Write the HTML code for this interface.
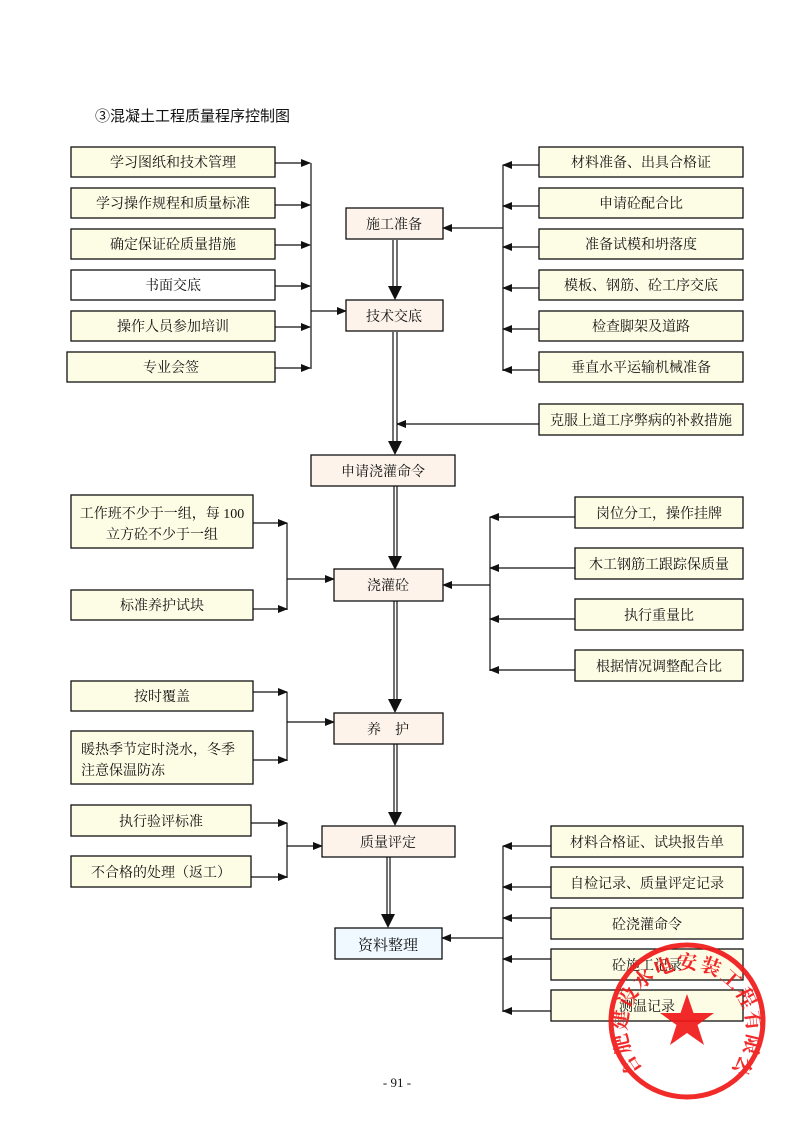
<!DOCTYPE html>
<html><head><meta charset="utf-8"><style>
html,body{margin:0;padding:0;background:#fff}
svg{display:block}
text{font-family:"Liberation Serif","Noto Serif CJK SC","Noto Sans CJK SC",serif;font-size:14px;fill:#111}
.y{fill:#fdfde6;stroke:#111;stroke-width:1.3}
.w{fill:#fff;stroke:#111;stroke-width:1.3}
.p{fill:#fdf3ea;stroke:#111;stroke-width:1.3}
.b{fill:#f0f9ff;stroke:#111;stroke-width:1.3}
.l{stroke:#111;stroke-width:1.2;fill:none}
</style></head><body>
<svg width="794" height="1122" viewBox="0 0 794 1122" xmlns="http://www.w3.org/2000/svg">
<defs>
<marker id="a" markerWidth="10" markerHeight="10" refX="9" refY="5" orient="auto" markerUnits="userSpaceOnUse"><path d="M0,1 L10,5 L0,9 z" fill="#111"/></marker>
</defs>
<text x="95" y="121" style="font-size:15px;font-family:'Liberation Sans','Noto Sans CJK SC',sans-serif">③混凝土工程质量程序控制图</text>

<g stroke="#111" stroke-width="1.2">
<line x1="393" y1="240" x2="393" y2="288"/><line x1="397" y1="240" x2="397" y2="288"/>
<line x1="393" y1="332" x2="393" y2="443"/><line x1="397" y1="332" x2="397" y2="443"/>
<line x1="394" y1="486" x2="394" y2="558"/><line x1="397" y1="486" x2="397" y2="558"/>
<line x1="394" y1="601" x2="394" y2="701"/><line x1="397" y1="601" x2="397" y2="701"/>
<line x1="394" y1="744" x2="394" y2="814"/><line x1="397" y1="744" x2="397" y2="814"/>
<line x1="387" y1="857" x2="387" y2="916"/><line x1="390" y1="857" x2="390" y2="916"/>
</g>
<g fill="#111">
<path d="M388,286 L402,286 L395,300 z"/>
<path d="M388,441 L402,441 L395,455 z"/>
<path d="M388,556 L402,556 L395,570 z"/>
<path d="M388,699 L402,699 L395,713 z"/>
<path d="M388,812 L402,812 L395,826 z"/>
<path d="M381,914 L395,914 L388,928 z"/>
</g>

<rect class="y" x="71" y="147" width="204" height="30"/><text x="173" y="167" text-anchor="middle">学习图纸和技术管理</text>
<rect class="y" x="71" y="188" width="204" height="30"/><text x="173" y="208" text-anchor="middle">学习操作规程和质量标准</text>
<rect class="y" x="71" y="229" width="204" height="30"/><text x="173" y="249" text-anchor="middle">确定保证砼质量措施</text>
<rect class="w" x="71" y="270" width="204" height="30"/><text x="173" y="290" text-anchor="middle">书面交底</text>
<rect class="y" x="71" y="311" width="204" height="30"/><text x="173" y="331" text-anchor="middle">操作人员参加培训</text>
<rect class="y" x="67" y="352" width="208" height="30"/><text x="171" y="372" text-anchor="middle">专业会签</text>
<g class="l">
<line x1="275" y1="163" x2="310" y2="163" marker-end="url(#a)"/>
<line x1="275" y1="205" x2="310" y2="205" marker-end="url(#a)"/>
<line x1="275" y1="245" x2="310" y2="245" marker-end="url(#a)"/>
<line x1="275" y1="286" x2="310" y2="286" marker-end="url(#a)"/>
<line x1="275" y1="327" x2="310" y2="327" marker-end="url(#a)"/>
<line x1="275" y1="368" x2="310" y2="368" marker-end="url(#a)"/>
<line x1="311" y1="163" x2="311" y2="369"/>
<line x1="311" y1="311" x2="346" y2="311" marker-end="url(#a)"/>
</g>
<rect class="p" x="346" y="208" width="97" height="31"/><text x="394" y="229" text-anchor="middle">施工准备</text>
<rect class="p" x="346" y="300" width="97" height="31"/><text x="394" y="321" text-anchor="middle">技术交底</text>

<rect class="y" x="539" y="147" width="204" height="30"/><text x="641" y="167" text-anchor="middle">材料准备、出具合格证</text>
<rect class="y" x="539" y="188" width="204" height="30"/><text x="641" y="208" text-anchor="middle">申请砼配合比</text>
<rect class="y" x="539" y="229" width="204" height="30"/><text x="641" y="249" text-anchor="middle">准备试模和坍落度</text>
<rect class="y" x="539" y="270" width="204" height="30"/><text x="641" y="290" text-anchor="middle">模板、钢筋、砼工序交底</text>
<rect class="y" x="539" y="311" width="204" height="30"/><text x="641" y="331" text-anchor="middle">检查脚架及道路</text>
<rect class="y" x="539" y="352" width="204" height="30"/><text x="641" y="372" text-anchor="middle">垂直水平运输机械准备</text>
<g class="l">
<line x1="539" y1="165" x2="503" y2="165" marker-end="url(#a)"/>
<line x1="539" y1="206" x2="503" y2="206" marker-end="url(#a)"/>
<line x1="539" y1="247" x2="503" y2="247" marker-end="url(#a)"/>
<line x1="539" y1="288" x2="503" y2="288" marker-end="url(#a)"/>
<line x1="539" y1="329" x2="503" y2="329" marker-end="url(#a)"/>
<line x1="539" y1="370" x2="503" y2="370" marker-end="url(#a)"/>
<line x1="503" y1="165" x2="503" y2="371"/>
<line x1="503" y1="228" x2="443" y2="228" marker-end="url(#a)"/>
</g>
<rect class="y" x="539" y="404" width="204" height="31"/><text x="641" y="425" text-anchor="middle">克服上道工序弊病的补救措施</text>
<line class="l" x1="539" y1="424" x2="397" y2="424" marker-end="url(#a)"/>

<rect class="p" x="311" y="455" width="144" height="31"/><text x="383" y="476" text-anchor="middle">申请浇灌命令</text>

<rect class="y" x="71" y="495" width="182" height="53"/>
<text x="162" y="518" text-anchor="middle">工作班不少于一组，每 100</text>
<text x="162" y="539" text-anchor="middle">立方砼不少于一组</text>
<rect class="y" x="71" y="590" width="182" height="30"/><text x="162" y="610" text-anchor="middle">标准养护试块</text>
<g class="l">
<line x1="253" y1="523" x2="287" y2="523" marker-end="url(#a)"/>
<line x1="253" y1="609" x2="287" y2="609" marker-end="url(#a)"/>
<line x1="287" y1="523" x2="287" y2="610"/>
<line x1="287" y1="579" x2="334" y2="579" marker-end="url(#a)"/>
</g>
<rect class="p" x="334" y="569" width="109" height="32"/><text x="388" y="590" text-anchor="middle">浇灌砼</text>
<rect class="y" x="575" y="497" width="168" height="31"/><text x="659" y="518" text-anchor="middle">岗位分工，操作挂牌</text>
<rect class="y" x="575" y="548" width="168" height="31"/><text x="659" y="569" text-anchor="middle">木工钢筋工跟踪保质量</text>
<rect class="y" x="575" y="599" width="168" height="31"/><text x="659" y="620" text-anchor="middle">执行重量比</text>
<rect class="y" x="575" y="650" width="168" height="31"/><text x="659" y="671" text-anchor="middle">根据情况调整配合比</text>
<g class="l">
<line x1="575" y1="517" x2="490" y2="517" marker-end="url(#a)"/>
<line x1="575" y1="568" x2="490" y2="568" marker-end="url(#a)"/>
<line x1="575" y1="619" x2="490" y2="619" marker-end="url(#a)"/>
<line x1="575" y1="670" x2="490" y2="670" marker-end="url(#a)"/>
<line x1="490" y1="517" x2="490" y2="671"/>
<line x1="490" y1="585" x2="443" y2="585" marker-end="url(#a)"/>
</g>

<rect class="y" x="71" y="681" width="182" height="30"/><text x="162" y="701" text-anchor="middle">按时覆盖</text>
<rect class="y" x="71" y="731" width="182" height="53"/>
<text x="81" y="754">暖热季节定时浇水，冬季</text>
<text x="81" y="775">注意保温防冻</text>
<g class="l">
<line x1="253" y1="692" x2="287" y2="692" marker-end="url(#a)"/>
<line x1="253" y1="760" x2="287" y2="760" marker-end="url(#a)"/>
<line x1="287" y1="692" x2="287" y2="761"/>
<line x1="287" y1="722" x2="334" y2="722" marker-end="url(#a)"/>
</g>
<rect class="p" x="334" y="713" width="109" height="31"/><text x="388" y="734" text-anchor="middle">养　护</text>

<rect class="y" x="71" y="805" width="180" height="31"/><text x="161" y="826" text-anchor="middle">执行验评标准</text>
<rect class="y" x="71" y="856" width="180" height="31"/><text x="161" y="877" text-anchor="middle">不合格的处理（返工）</text>
<g class="l">
<line x1="251" y1="823" x2="287" y2="823" marker-end="url(#a)"/>
<line x1="251" y1="877" x2="287" y2="877" marker-end="url(#a)"/>
<line x1="287" y1="823" x2="287" y2="878"/>
<line x1="287" y1="846" x2="322" y2="846" marker-end="url(#a)"/>
</g>
<rect class="p" x="322" y="826" width="133" height="31"/><text x="388" y="847" text-anchor="middle">质量评定</text>

<rect class="b" x="335" y="928" width="107" height="31"/><text x="388" y="950" text-anchor="middle" style="font-size:15px">资料整理</text>
<rect class="y" x="551" y="826" width="192" height="31"/><text x="647" y="847" text-anchor="middle">材料合格证、试块报告单</text>
<rect class="y" x="551" y="867" width="192" height="31"/><text x="647" y="888" text-anchor="middle">自检记录、质量评定记录</text>
<rect class="y" x="551" y="908" width="192" height="31"/><text x="647" y="929" text-anchor="middle">砼浇灌命令</text>
<rect class="y" x="551" y="949" width="192" height="31"/><text x="647" y="970" text-anchor="middle">砼施工记录</text>
<rect class="y" x="551" y="990" width="192" height="31"/><text x="647" y="1011" text-anchor="middle">测温记录</text>
<g class="l">
<line x1="551" y1="846" x2="503" y2="846" marker-end="url(#a)"/>
<line x1="551" y1="887" x2="503" y2="887" marker-end="url(#a)"/>
<line x1="551" y1="918" x2="503" y2="918" marker-end="url(#a)"/>
<line x1="551" y1="959" x2="503" y2="959" marker-end="url(#a)"/>
<line x1="551" y1="1011" x2="503" y2="1011" marker-end="url(#a)"/>
<line x1="503" y1="846" x2="503" y2="1012"/>
<line x1="503" y1="938" x2="442" y2="938" marker-end="url(#a)"/>
</g>

<text x="397" y="1087" text-anchor="middle" style="font-size:13px">- 91 -</text>

<g opacity="0.92">
<circle cx="687" cy="1021" r="76" fill="none" stroke="#f01818" stroke-width="5"/>
<path d="M687,994 L693.5,1013 L714,1013 L697.5,1025 L704,1045 L687,1033 L670,1045 L676.5,1025 L660,1013 L680.5,1013 z" fill="#f01818"/>
<path id="arc" d="M643,1070 A60,60 0 1,1 731,1070" fill="none"/>
<text style="font-size:20px;font-weight:bold;fill:#f01818" textLength="300" lengthAdjust="spacing"><textPath href="#arc" textLength="300">合肥建设水电安装工程有限公司</textPath></text>
</g>
</svg>
</body></html>
